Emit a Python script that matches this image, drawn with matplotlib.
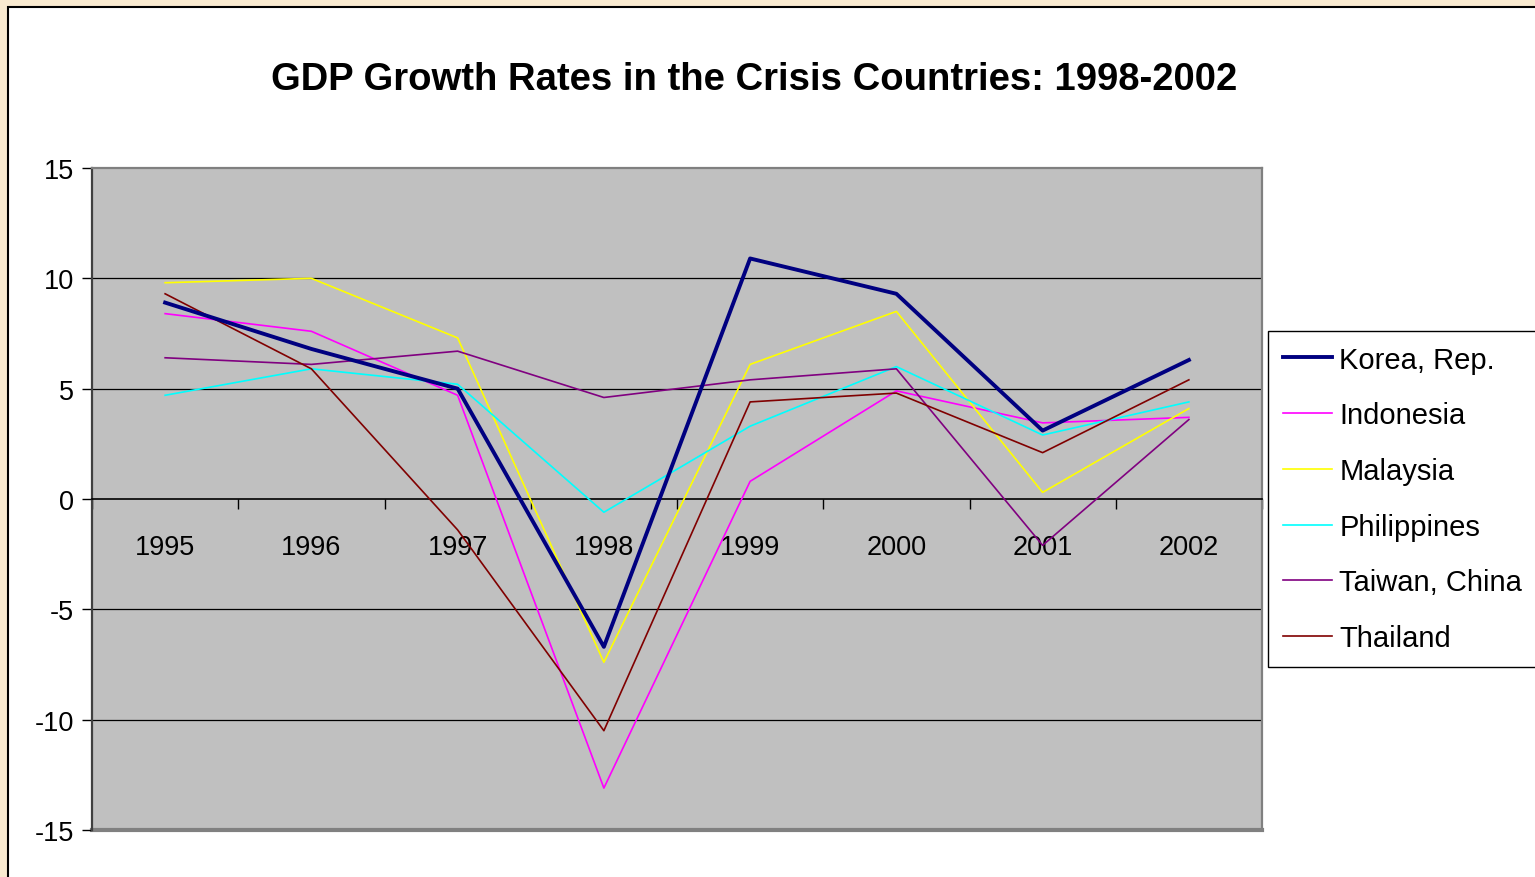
import matplotlib.pyplot as plt
from matplotlib.patches import Rectangle
from matplotlib.ticker import FixedLocator

plt.rcParams['font.family'] = ['Liberation Sans', 'DejaVu Sans']
plt.rcParams['axes.unicode_minus'] = False

# years on the category axis
years = ['1995', '1996', '1997', '1998', '1999', '2000', '2001', '2002']

# GDP growth (%) per country
korea = [8.9, 6.8, 5.0, -6.7, 10.9, 9.3, 3.1, 6.3]
indonesia = [8.4, 7.6, 4.7, -13.1, 0.8, 4.9, 3.45, 3.7]
malaysia = [9.8, 10.0, 7.3, -7.4, 6.1, 8.5, 0.3, 4.1]
philippines = [4.7, 5.9, 5.2, -0.6, 3.3, 6.0, 2.9, 4.4]
taiwan = [6.4, 6.1, 6.7, 4.6, 5.4, 5.9, -2.1, 3.6]
thailand = [9.3, 5.9, -1.4, -10.5, 4.4, 4.8, 2.1, 5.4]

fig = plt.figure(figsize=(15.35, 8.78), dpi=100, facecolor='#F9EAD0')

# white chart area with black outline (runs off the right/bottom edge)
fig.patches.append(Rectangle((8 / 1535, -0.05), 1.2, 1 - 8 / 878 + 0.05,
                             transform=fig.transFigure, facecolor='white',
                             edgecolor='black', linewidth=1.5, zorder=-5))

ax = fig.add_axes([92 / 1535, 47 / 878, 1170 / 1535, 662 / 878])
ax.set_zorder(2)
ax.set_facecolor('#C0C0C0')

x = range(len(years))
ax.plot(x, korea, color='#000080', lw=2.8, label='Korea, Rep.', zorder=5)
ax.plot(x, indonesia, color='#FF00FF', lw=1.2, label='Indonesia', zorder=4)
ax.plot(x, malaysia, color='#FFFF00', lw=1.2, label='Malaysia', zorder=4)
ax.plot(x, philippines, color='#00FFFF', lw=1.2, label='Philippines', zorder=4)
ax.plot(x, taiwan, color='#800080', lw=1.2, label='Taiwan, China', zorder=4)
ax.plot(x, thailand, color='#800000', lw=1.2, label='Thailand', zorder=4)

ax.set_xlim(-0.5, 7.5)
ax.set_ylim(-15, 15)
ax.set_yticks([-15, -10, -5, 0, 5, 10, 15])
ax.tick_params(axis='y', labelsize=19.5, length=7, width=1, direction='out', pad=6)
for yv in [-10, -5, 5, 10]:
    ax.axhline(yv, color='black', lw=0.9, zorder=1)

# category axis crossing at zero
ax.spines['bottom'].set_position(('data', 0))
ax.spines['bottom'].set_color('black')
ax.spines['bottom'].set_linewidth(1.2)
ax.xaxis.set_major_locator(FixedLocator(list(x)))
ax.set_xticklabels(years)
ax.xaxis.set_minor_locator(FixedLocator([i - 0.5 for i in range(len(years) + 1)]))
ax.tick_params(axis='x', which='major', length=0, labelsize=19.5, pad=25)
ax.tick_params(axis='x', which='minor', length=7, width=1, direction='out')

ax.spines['left'].set_color('#404040')
ax.spines['left'].set_linewidth(1.6)
for s in ['top', 'right']:
    ax.spines[s].set_color('#808080')
    ax.spines[s].set_linewidth(1.6)
# bottom edge of the plot area
ax.axhline(-15, color='#808080', lw=3, zorder=1, clip_on=False)

fig.text(754 / 1535, 1 - 80 / 878, 'GDP Growth Rates in the Crisis Countries: 1998-2002',
         ha='center', va='center', fontsize=27.5, fontweight='bold')

leg = fig.legend(loc='upper left', bbox_to_anchor=(1268 / 1535, 1 - 332 / 878),
                 borderaxespad=0, fontsize=21, frameon=True, fancybox=False,
                 edgecolor='black', framealpha=1, handlelength=1.7,
                 handletextpad=0.25, labelspacing=0.95, borderpad=0.5)
leg.get_frame().set_linewidth(1)
leg.set_zorder(3)

plt.savefig('out.png', dpi=100, facecolor=fig.get_facecolor())
